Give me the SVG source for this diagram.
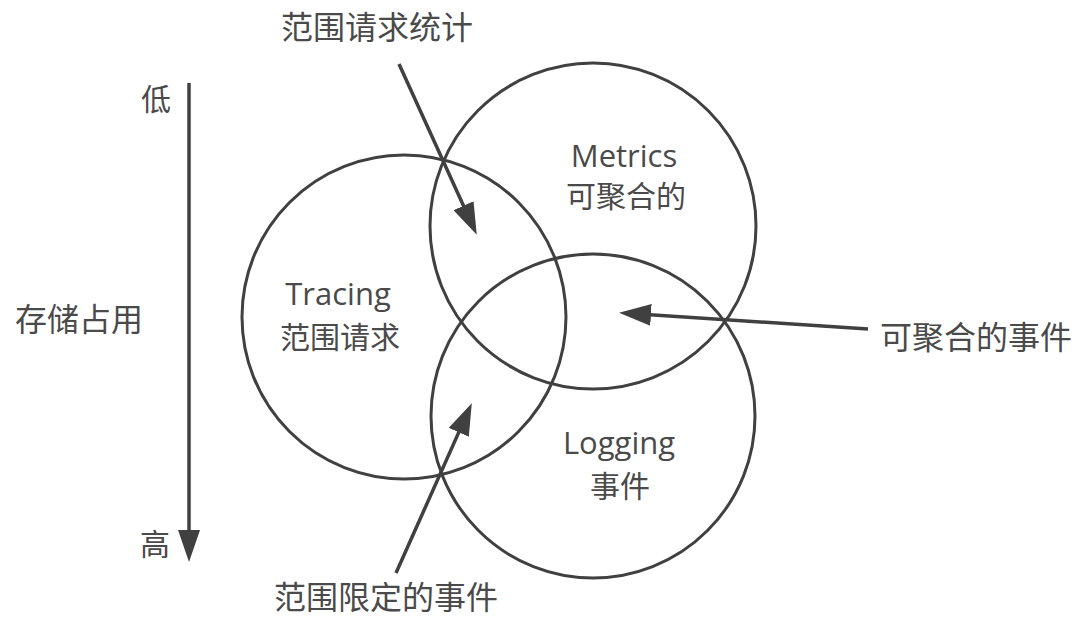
<svg xmlns="http://www.w3.org/2000/svg" width="1092" height="628" viewBox="0 0 1092 628">
  <style>
    .ring { fill: none; stroke: #404040; stroke-width: 3; }
    .conn { fill: none; stroke: #404040; stroke-width: 3.5; }
    .lbl { font-family: "Open Sans", "Noto Sans CJK SC", sans-serif; font-size: 31px; fill: #4a4a4a; }
    .cjk { font-family: "Noto Sans CJK SC", sans-serif; font-size: 30px; fill: #4a4a4a; }
    .note { font-family: "Noto Sans CJK SC", sans-serif; font-size: 32px; fill: #4a4a4a; }
  </style>
  <defs>
    <marker id="ah" markerUnits="userSpaceOnUse" markerWidth="32" markerHeight="22" viewBox="0 0 32 22" refX="20" refY="11" orient="auto">
      <path d="M0,0 L32,11 L0,22 z" fill="#404040"/>
    </marker>
  </defs>
  <rect width="1092" height="628" fill="#ffffff"/>

  <g id="metrics">
    <circle class="ring" cx="593" cy="226" r="163"/>
    <text class="lbl" x="624" y="167" text-anchor="middle">Metrics</text>
    <text class="cjk" x="626" y="207" text-anchor="middle">可聚合的</text>
  </g>
  <g id="tracing">
    <circle class="ring" cx="404" cy="317" r="162"/>
    <text class="lbl" x="338" y="305" text-anchor="middle">Tracing</text>
    <text class="cjk" x="340" y="348" text-anchor="middle">范围请求</text>
  </g>
  <g id="logging">
    <circle class="ring" cx="593" cy="416" r="162"/>
    <text class="lbl" x="619" y="454" text-anchor="middle">Logging</text>
    <text class="cjk" x="620" y="497" text-anchor="middle">事件</text>
  </g>

  <g id="axis">
    <text class="cjk" x="156" y="110" text-anchor="middle">低</text>
    <text class="cjk" x="155" y="555" text-anchor="middle">高</text>
    <text class="note" x="79" y="331" text-anchor="middle">存储占用</text>
  </g>
  <g id="label-top">
    <text class="note" x="377" y="39" text-anchor="middle">范围请求统计</text>
  </g>
  <g id="label-right">
    <text class="note" x="976" y="349" text-anchor="middle">可聚合的事件</text>
  </g>
  <g id="label-bottom">
    <text class="note" x="386" y="609" text-anchor="middle">范围限定的事件</text>
  </g>

  <g id="connectors">
    <line class="conn" x1="189" y1="83" x2="189" y2="550" marker-end="url(#ah)"/>
    <line class="conn" x1="399" y1="64" x2="471.8" y2="223.9" marker-end="url(#ah)"/>
    <line class="conn" x1="396" y1="573" x2="466.9" y2="414.1" marker-end="url(#ah)"/>
    <line class="conn" x1="868" y1="329" x2="631" y2="313.6" marker-end="url(#ah)"/>
  </g>
</svg>
